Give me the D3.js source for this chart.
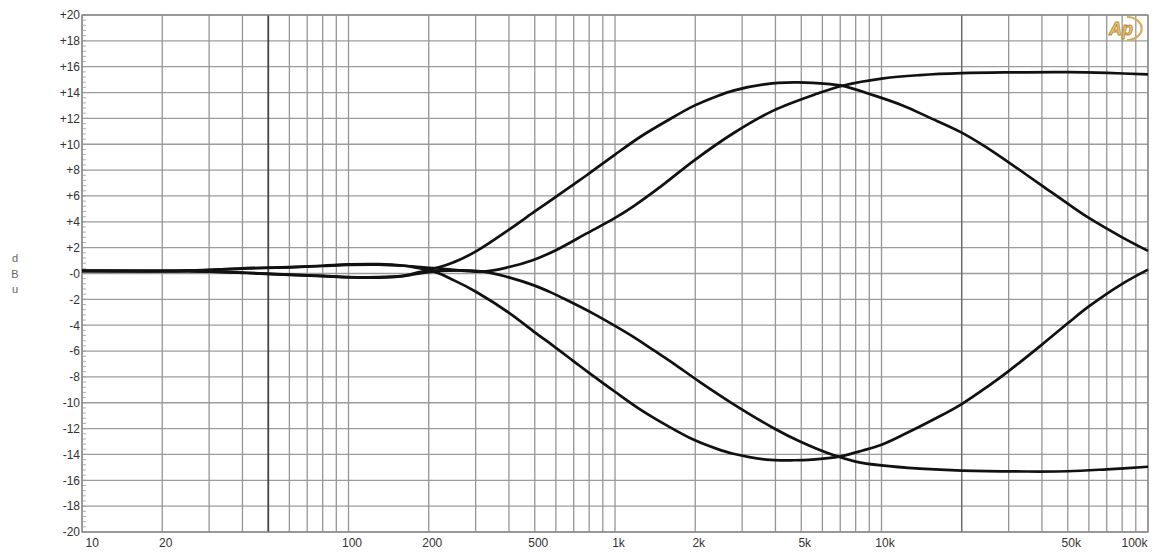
<!DOCTYPE html>
<html>
<head>
<meta charset="utf-8">
<script src="https://cdn.jsdelivr.net/npm/d3@7"></script>
<style>
  body { margin: 0; background: #fff; }
  svg { display: block; font-family: "Liberation Sans", Arial, sans-serif; }
  .tick text { fill: #333; font-size: 12px; }
</style>
</head>
<body>
<div id="chart"></div>
<script>
// Frequency response, four tone settings. [Hz, dB]
const peakBoost = [[10,0.2],[25,0.22],[40,0.4],[60,0.5],[80,0.6],[100,0.7],[130,0.72],[160,0.62],[202,0.35],
  [250,0.9],[303,1.75],[404,3.45],[500,4.8],[587,5.8],[700,6.9],[783,7.6],[1000,9.2],[1250,10.6],
  [1563,11.8],[1967,12.95],[2400,13.7],[2780,14.15],[3700,14.65],[4700,14.78],[5500,14.75],[7000,14.55],
  [9300,13.8],[12000,13.0],[15000,12.1],[20000,10.9],[25000,9.7],[30000,8.6],[40000,6.8],[50000,5.4],
  [60000,4.3],[80000,2.8],[100000,1.75]];

const shelfBoost = [[10,0.2],[25,0.22],[40,0.38],[60,0.48],[80,0.58],[100,0.66],[130,0.68],[160,0.6],[220,0.38],
  [321,0.15],[400,0.5],[494,1.05],[600,1.8],[783,3.1],[1000,4.3],[1172,5.2],[1500,6.8],[1967,8.7],
  [2780,10.85],[3927,12.6],[5714,13.9],[7194,14.55],[10160,15.1],[13940,15.35],[20000,15.5],[30000,15.56],
  [50000,15.58],[70000,15.52],[100000,15.4]];

const peakCut = [[10,0.2],[25,0.18],[40,0.05],[60,-0.1],[80,-0.2],[100,-0.3],[130,-0.32],[160,-0.2],[202,0.2],
  [250,-0.55],[303,-1.45],[404,-3.1],[500,-4.55],[587,-5.6],[700,-6.8],[783,-7.55],[1000,-9.15],
  [1250,-10.55],[1563,-11.75],[1967,-12.85],[2400,-13.55],[2780,-13.95],[3700,-14.4],[4700,-14.45],
  [5500,-14.4],[7000,-14.15],[8500,-13.7],[10000,-13.25],[12000,-12.5],[16000,-11.2],[20000,-10.1],
  [25000,-8.75],[30000,-7.55],[40000,-5.5],[50000,-3.85],[60000,-2.55],[80000,-0.8],[100000,0.3]];

const shelfCut = [[10,0.2],[25,0.18],[40,0.07],[60,-0.08],[80,-0.18],[100,-0.27],[130,-0.28],[160,-0.18],[220,0.2],
  [321,0.15],[400,-0.3],[494,-0.9],[580,-1.5],[659,-2.05],[829,-3.1],[1000,-4.05],[1172,-4.9],
  [1400,-5.95],[1655,-6.95],[2084,-8.4],[2780,-10.1],[3927,-11.95],[4946,-13.0],[6594,-14.05],
  [8000,-14.55],[10000,-14.85],[13940,-15.1],[20000,-15.25],[35000,-15.32],[50000,-15.3],
  [70000,-15.15],[100000,-14.95]];

const curves = [peakBoost, shelfBoost, peakCut, shelfCut];

const freqLabels = [10, 20, 100, 200, 500, 1000, 2000, 5000, 10000, 50000, 100000];
const dbTicks = d3.range(-20, 21, 2);

let margin = { top: 15, right: 6, bottom: 24, left: 82 },
  width = 1154 - margin.left - margin.right,
  height = 556 - margin.top - margin.bottom;

let svg = d3.select("#chart").append("svg")
  .attr("width", 1154).attr("height", 556)
  .append("g").attr("transform", "translate(" + margin.left + "," + margin.top + ")");

let x = d3.scaleLog().domain([10, 100000]).range([0, width]);
let y = d3.scaleLinear().domain([-20, 20]).range([height, 0]);

// grid
svg.append("g").selectAll("line").data(dbTicks).enter().append("line")
  .attr("x1", 0).attr("x2", width)
  .attr("y1", d => y(d)).attr("y2", d => y(d))
  .attr("stroke", "#9c9c9c").attr("stroke-width", 1.3);

svg.append("g").selectAll("line").data(x.ticks()).enter().append("line")
  .attr("x1", d => x(d)).attr("x2", d => x(d))
  .attr("y1", 0).attr("y2", height)
  .attr("stroke", d => d == 50 ? "#444" : (d == 20000 ? "#6a6a6a" : "#959595"))
  .attr("stroke-width", d => d == 50 ? 1.8 : (d == 20000 ? 1.5 : 1.3));

// minor ticks on the left edge
svg.append("g").selectAll("line").data(d3.range(-20, 20.001, 0.4)).enter().append("line")
  .attr("x1", 0).attr("x2", 4)
  .attr("y1", d => y(d)).attr("y2", d => y(d))
  .attr("stroke", "#999").attr("stroke-width", 0.8);

svg.append("rect").attr("width", width).attr("height", height)
  .attr("fill", "none").attr("stroke", "#8a8a8a").attr("stroke-width", 1.3);

// axes
let fmtHz = d => d >= 1000 ? (d / 1000) + "k" : String(d);
let xAxis = svg.append("g").attr("transform", "translate(0," + height + ")")
  .call(d3.axisBottom(x).tickValues(freqLabels).tickFormat(fmtHz).tickSize(0).tickPadding(6));
xAxis.select(".domain").remove();
xAxis.selectAll(".tick text")
  .attr("text-anchor", (d, i) => i == 0 ? "start" : (i == freqLabels.length - 1 ? "end" : "middle"))
  .attr("dx", (d, i) => i == 0 ? 3 : (i == freqLabels.length - 1 ? -1 : 3));

let fmtDb = d => d > 0 ? "+" + d : (d == 0 ? "-0" : String(d));
let yAxis = svg.append("g")
  .call(d3.axisLeft(y).tickValues(dbTicks).tickFormat(fmtDb).tickSize(0).tickPadding(2));
yAxis.select(".domain").remove();

// unit label, stacked letters
let unit = d3.select("svg").append("text").attr("x", 15).attr("y", 262)
  .attr("text-anchor", "middle").attr("fill", "#666").style("font-size", "11px");
["d", "B", "u"].forEach((c, i) => unit.append("tspan").attr("x", 15).attr("dy", i == 0 ? 0 : 15.5).text(c));

// curves
let line = d3.line().x(d => x(d[0])).y(d => y(d[1])).curve(d3.curveCatmullRom.alpha(0.5));
svg.append("g").selectAll("path").data(curves).enter().append("path")
  .attr("d", line).attr("fill", "none")
  .attr("stroke", "#111").attr("stroke-width", 2.7).attr("stroke-linejoin", "round");

// Ap logo
let logo = d3.select("svg").append("g").attr("transform", "translate(1107,16)");
logo.append("path").attr("d", "M 20 1 A 14 11 0 0 1 20 24")
  .attr("fill", "none").attr("stroke", "#d4ac5a").attr("stroke-width", 2.2);
logo.append("text").attr("x", 2).attr("y", 19).text("Ap")
  .attr("fill", "#e8c97a").attr("stroke", "#b88a34").attr("stroke-width", 0.9)
  .style("font-size", "18px").style("font-style", "italic").style("font-weight", "bold");
</script>
</body>
</html>
